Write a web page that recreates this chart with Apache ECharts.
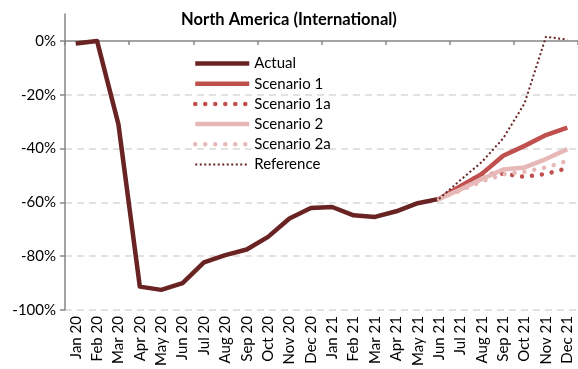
<!DOCTYPE html>
<html>
<head>
<meta charset="utf-8">
<script src="https://cdn.jsdelivr.net/npm/echarts@6/dist/echarts.min.js"></script>
<style>
  html, body { margin: 0; padding: 0; background: #fff; }
  #chart { width: 578px; height: 369px; }
</style>
</head>
<body>
<div id="chart"></div>
<script>
// Monthly change vs. 2019, in percent
const months = ['Jan 20','Feb 20','Mar 20','Apr 20','May 20','Jun 20','Jul 20','Aug 20','Sep 20','Oct 20','Nov 20','Dec 20',
                'Jan 21','Feb 21','Mar 21','Apr 21','May 21','Jun 21','Jul 21','Aug 21','Sep 21','Oct 21','Nov 21','Dec 21'];
const actual     = [-1, 0, -31, -91.3, -92.5, -90, -82.3, -79.6, -77.5, -72.8, -66, -62.1,
                    -61.7, -64.8, -65.4, -63.3, -60.3, -58.7, null, null, null, null, null, null];
const pad = Array(17).fill(null);
const scenario1  = pad.concat([-58.7, -54, -49.4, -42.7, -39, -35, -32.2]);
const scenario1a = pad.concat([-58.7, -54.3, -49.3, -49.4, -50.5, -49.4, -47.3]);
const scenario2  = pad.concat([-58.7, -55.2, -51.3, -47.8, -47, -43.9, -40.2]);
const scenario2a = pad.concat([-58.7, -55.6, -52.2, -49.6, -48.6, -47, -44.6]);
const reference  = pad.concat([-58.7, -51.7, -45, -36.2, -23.2, 1.5, 0.5]);
const yTicks = [-100, -80, -60, -40, -20, 0];

const FONT = 'Lato';
const dark = '#6a2323';
const red = '#c0504d';
const pink = '#e6b9b8';

function lineSeries(name, data, style) {
  return {
    name, data, type: 'line', xAxisIndex: 0, symbol: 'none', connectNulls: false,
    lineStyle: Object.assign({ join: 'round' }, style),
    itemStyle: { color: style.color },
    emphasis: { disabled: true }
  };
}

const chart = echarts.init(document.getElementById('chart'), null, { renderer: 'canvas' });
chart.setOption({
  animation: false,
  textStyle: { fontFamily: FONT, color: '#000' },
  title: {
    text: 'North America (International)', left: 'center', top: 6,
    textStyle: { fontFamily: FONT, fontWeight: 'bold', fontSize: 16.5, color: '#000' }
  },
  legend: {
    orient: 'vertical', left: 193, top: 56, padding: 0,
    itemWidth: 54, itemHeight: 14, itemGap: 5.2,
    itemStyle: { opacity: 0 },
    lineStyle: { width: 4.5 },
    textStyle: { fontFamily: FONT, fontSize: 15, color: '#000' },
    data: ['Actual', 'Scenario 1', 'Scenario 1a', 'Scenario 2', 'Scenario 2a',
           { name: 'Reference', lineStyle: { width: 2 } }]
  },
  grid: { left: 65, right: -3, top: 14, bottom: 57, containLabel: false },
  xAxis: [
    {
      type: 'category', data: months, position: 'bottom',
      axisLine: { show: false, onZero: false }, axisTick: { show: false },
      axisLabel: { rotate: 90, interval: 0, fontFamily: FONT, fontSize: 15, color: '#000', margin: 6 }
    },
    {
      type: 'category', data: months, position: 'top',
      axisLine: { show: true, onZero: true, lineStyle: { color: '#868686', width: 1.5 } },
      axisTick: { show: true, inside: true, length: 4, lineStyle: { color: '#868686', width: 1.5 } },
      axisLabel: { show: false }
    }
  ],
  yAxis: {
    type: 'value', min: -100, max: 10, interval: 20,
    axisLine: { show: true, onZero: false, lineStyle: { color: '#868686', width: 1.5 } },
    axisTick: { show: true, length: 5, customValues: yTicks, lineStyle: { color: '#868686', width: 1.5 } },
    axisLabel: {
      customValues: yTicks, fontFamily: FONT, fontSize: 15, color: '#000', margin: 9,
      formatter: v => v + '%'
    },
    splitLine: {
      show: true, showMaxLine: false,
      lineStyle: { color: '#d9d9d9', width: 1.5, type: [7, 5] }
    }
  },
  series: [
    lineSeries('Actual', actual, { color: dark, width: 4.5 }),
    lineSeries('Scenario 1', scenario1, { color: red, width: 4.5 }),
    lineSeries('Scenario 1a', scenario1a, { color: red, width: 4.5, type: [0.01, 10], cap: 'round' }),
    lineSeries('Scenario 2', scenario2, { color: pink, width: 4.5 }),
    lineSeries('Scenario 2a', scenario2a, { color: pink, width: 4.5, type: [0.01, 10], cap: 'round' }),
    lineSeries('Reference', reference, { color: dark, width: 2, type: [2, 2.5] })
  ]
});
</script>
</body>
</html>
